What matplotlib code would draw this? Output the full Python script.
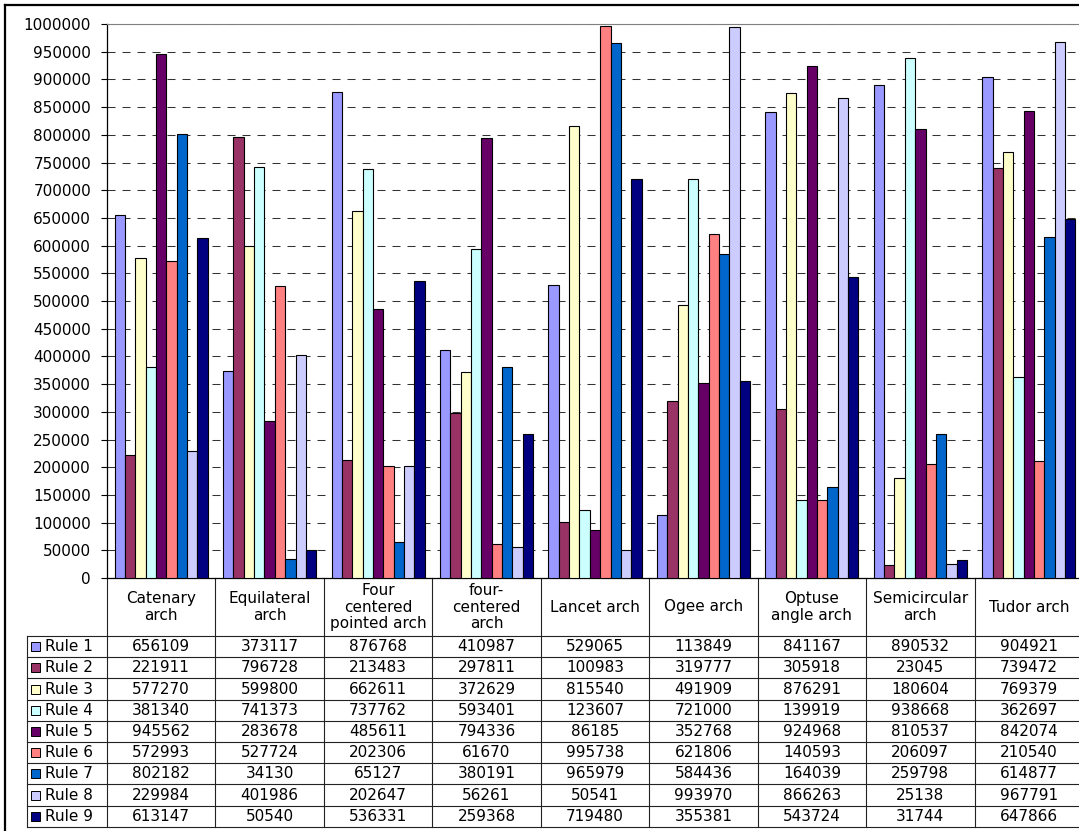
import numpy as np
import matplotlib
matplotlib.use("Agg")
import matplotlib.pyplot as plt
from matplotlib.patches import Rectangle

plt.rcParams['font.family'] = ['DejaVu Sans']

# arch types and the nine rule series
arches = ["Catenary\narch", "Equilateral\narch", "Four\ncentered\npointed arch",
          "four-\ncentered\narch", "Lancet arch", "Ogee arch", "Optuse\nangle arch",
          "Semicircular\narch", "Tudor arch"]
rule_names = ["Rule 1", "Rule 2", "Rule 3", "Rule 4", "Rule 5",
              "Rule 6", "Rule 7", "Rule 8", "Rule 9"]

rule1 = [656109, 373117, 876768, 410987, 529065, 113849, 841167, 890532, 904921]
rule2 = [221911, 796728, 213483, 297811, 100983, 319777, 305918, 23045, 739472]
rule3 = [577270, 599800, 662611, 372629, 815540, 491909, 876291, 180604, 769379]
rule4 = [381340, 741373, 737762, 593401, 123607, 721000, 139919, 938668, 362697]
rule5 = [945562, 283678, 485611, 794336, 86185, 352768, 924968, 810537, 842074]
rule6 = [572993, 527724, 202306, 61670, 995738, 621806, 140593, 206097, 210540]
rule7 = [802182, 34130, 65127, 380191, 965979, 584436, 164039, 259798, 614877]
rule8 = [229984, 401986, 202647, 56261, 50541, 993970, 866263, 25138, 967791]
rule9 = [613147, 50540, 536331, 259368, 719480, 355381, 543724, 31744, 647866]
series = [rule1, rule2, rule3, rule4, rule5, rule6, rule7, rule8, rule9]

colors = ["#9999FF", "#993366", "#FFFFCC", "#CCFFFF", "#660066",
          "#FF8080", "#0066CC", "#CCCCFF", "#000080"]

# layout in pixels (origin top-left)
W, H = 1079, 831
AX_L, AX_R, AX_T, AX_B = 107, 1083, 24, 578
LEG_L = 27
HEAD_B = 636
ROW_H = 21.2
n_cat = len(arches)
col_w = (AX_R - AX_L) / n_cat
FS = 11

fig = plt.figure(figsize=(W / 100, H / 100), dpi=100)
fig.patch.set_facecolor("white")

# overlay in pixel units for the frame and the data table
tax = fig.add_axes([0, 0, 1, 1], zorder=0)
tax.set_xlim(0, W)
tax.set_ylim(H, 0)
tax.axis("off")

ax = fig.add_axes([AX_L / W, 1 - AX_B / H, (AX_R - AX_L) / W, (AX_B - AX_T) / H], zorder=1)
ax.patch.set_alpha(0)

bw = 0.0955
x = np.arange(n_cat) + 0.5
for i, (vals, c) in enumerate(zip(series, colors)):
    ax.bar(x + (i - 4) * bw, vals, bw, color=c, edgecolor="black", linewidth=0.8, zorder=3)

ax.set_xlim(0, n_cat)
ax.set_ylim(0, 1000000)
ax.set_yticks(np.arange(0, 1000001, 50000))
ax.set_yticklabels([str(v) for v in range(0, 1000001, 50000)], fontsize=FS)
ax.set_xticks([])
ax.tick_params(axis="y", direction="out", length=4.5, width=0.8, pad=7)
ax.yaxis.grid(True, color="#333333", linestyle=(0, (7.7, 6.7)), linewidth=0.75, zorder=0)
ax.set_axisbelow(True)
ax.spines["right"].set_visible(False)
ax.spines["top"].set_color("#808080")
ax.spines["left"].set_linewidth(0.9)
ax.spines["bottom"].set_linewidth(0.9)

# outer chart frame
tax.plot([5, 5], [5, H + 5], color="black", lw=1.6, clip_on=False)
tax.plot([5, W + 5], [5, 5], color="black", lw=1.6, clip_on=False)

# data table grid
lc = dict(color="#222222", lw=0.8)
for k in range(n_cat + 1):
    xk = AX_L + k * col_w
    tax.plot([xk, xk], [AX_B, HEAD_B + 9 * ROW_H], **lc)
tax.plot([LEG_L, LEG_L], [HEAD_B, HEAD_B + 9 * ROW_H], **lc)
for r in range(len(series) + 1):
    yr = HEAD_B + r * ROW_H
    tax.plot([LEG_L, W + 5], [yr, yr], **lc)

# column headers
for k, name in enumerate(arches):
    tax.text(AX_L + (k + 0.5) * col_w, (AX_B + HEAD_B) / 2, name, ha="center",
             va="center", fontsize=FS, linespacing=1.1)

# row labels with legend keys and values
for r, (name, vals, c) in enumerate(zip(rule_names, series, colors)):
    yc = HEAD_B + (r + 0.5) * ROW_H
    tax.add_patch(Rectangle((31, yc - 4.5), 9, 9, facecolor=c, edgecolor="black", lw=0.7))
    tax.text(45, yc, name, ha="left", va="center", fontsize=FS)
    for k, v in enumerate(vals):
        tax.text(AX_L + (k + 0.5) * col_w, yc, str(v), ha="center", va="center", fontsize=FS)

fig.savefig("out.png", dpi=100)
